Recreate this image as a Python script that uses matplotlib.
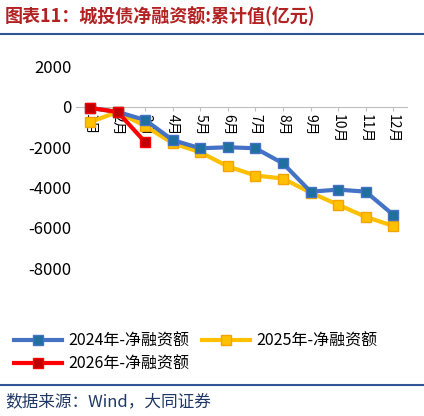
import matplotlib
matplotlib.use("Agg")
import matplotlib.pyplot as plt
from matplotlib.lines import Line2D

plt.rcParams['font.family'] = ['Noto Sans CJK SC', 'DejaVu Sans']

months = ["1月","2月","3月","4月","5月","6月","7月","8月","9月","10月","11月","12月"]
s2024 = [-50, -250, -650, -1650, -2050, -2000, -2050, -2800, -4200, -4100, -4200, -5350]
s2025 = [-750, -250, -950, -1800, -2250, -2950, -3400, -3550, -4250, -4850, -5450, -5900]
s2026 = [-50, -250, -1750]
yticks = [2000, 0, -2000, -4000, -6000, -8000]

fig = plt.figure(figsize=(4.24, 4.16), dpi=100)
fig.text(0.012, 0.962, "图表11：城投债净融资额:累计值(亿元)", color="#B22222",
         fontsize=13, fontweight="bold", va="center")
fig.add_artist(Line2D([0.0, 1.0], [0.918, 0.918], color="#2F5597", lw=1.5))
fig.add_artist(Line2D([0.0, 1.0], [0.075, 0.075], color="#2F5597", lw=1.5))
fig.text(0.012, 0.035, "数据来源：Wind，大同证券", color="#1F3864", fontsize=12, va="center")

ax = fig.add_axes([0.18, 0.355, 0.78, 0.485])
x = list(range(1, 13))
ax.plot(x, s2025, color="#FFC000", lw=3, marker="s", ms=7, mfc="#FFC000", mec="#F4A300", label="2025年-净融资额", zorder=2)
ax.plot(x, s2024, color="#4472C4", lw=3, marker="s", ms=7, mfc="#1F6F9F", mec="#4472C4", label="2024年-净融资额", zorder=3)
ax.plot(x[:3], s2026, color="#FF0000", lw=3, marker="s", ms=7, mfc="#C00000", mec="#FF0000", label="2026年-净融资额", zorder=4)

ax.set_ylim(-8000, 2000)
ax.set_yticks(yticks)
ax.set_yticklabels([str(v) for v in yticks], fontsize=12)
ax.set_xlim(0.5, 12.5)
ax.set_xticks(x)
ax.set_xticklabels(months, fontsize=10)
ax.tick_params(axis='x', labelrotation=-90, length=3, color="#BFBFBF", pad=2)
ax.spines['bottom'].set_position(('data', 0))
ax.spines['bottom'].set_color("#BFBFBF")
for s in ['top', 'right', 'left']:
    ax.spines[s].set_visible(False)
ax.tick_params(axis='y', length=0)

h, l = ax.get_legend_handles_labels()
order = [1, 2, 0]
fig.legend([h[i] for i in order], [l[i] for i in order], loc="upper left",
           bbox_to_anchor=(0.0, 0.235), ncol=2, frameon=False, fontsize=11.5,
           handlelength=3, columnspacing=0.8, handletextpad=0.4, labelspacing=0.4)

fig.savefig("out.png", dpi=100)
